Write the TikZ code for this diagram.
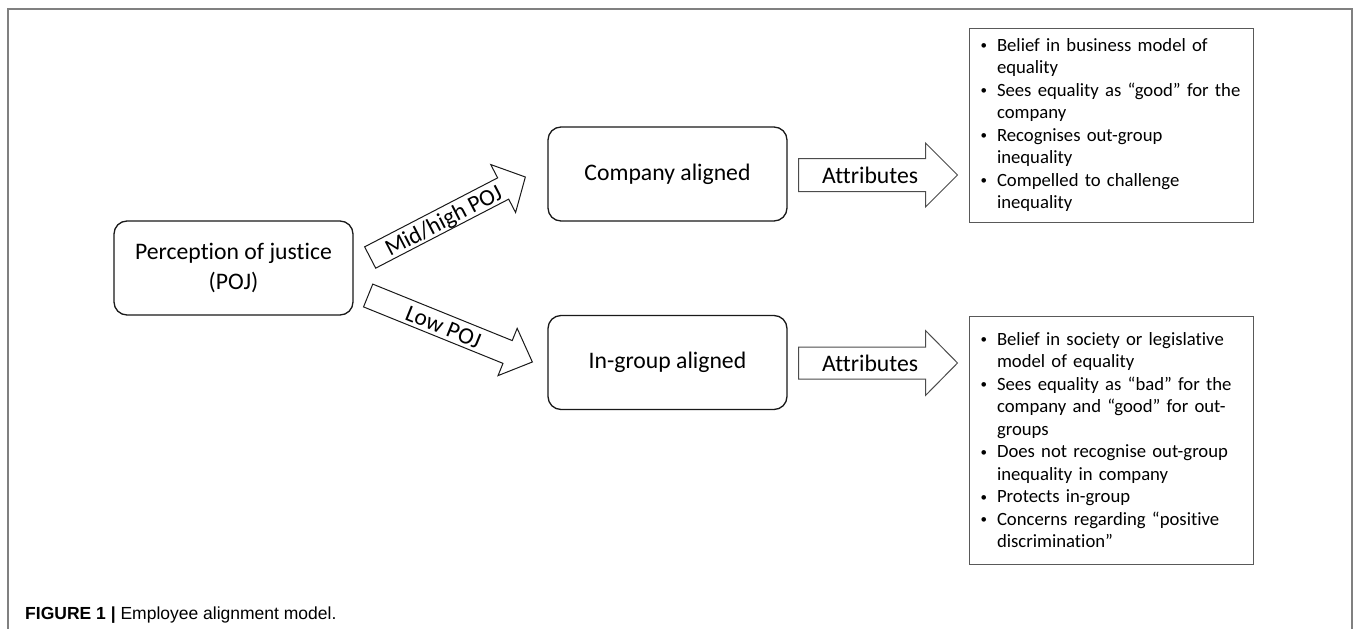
\documentclass[tikz,border=0pt]{standalone}
\usepackage{fontspec}
\setmainfont{Carlito}[Ligatures={NoCommon}]
\newfontfamily\capfont{Liberation Sans}
\usetikzlibrary{calc}
\newcommand\bul{\makebox[17.5pt][l]{\hspace*{1pt}\raisebox{1.5pt}{\fontsize{13}{13}\selectfont •}}}
\newcommand\ind{\hspace*{17.5pt}}
% style, A (tail middle), B (tip), shaft half width, head half width, head length
\newcommand\blockarr[6]{%
  \coordinate (#2-hb) at ($(#3)!#6!(#2)$);
  \draw[#1] ($(#2)!#4!90:(#3)$) -- ($(#2-hb)!#4!-90:(#2)$) -- ($(#2-hb)!#5!-90:(#2)$)
    -- (#3) -- ($(#2-hb)!#5!90:(#2)$) -- ($(#2-hb)!#4!90:(#2)$)
    -- ($(#2)!#4!-90:(#3)$) -- cycle;}
\begin{document}
\begin{tikzpicture}[x=1pt,y=-1pt,
  rbox/.style={draw=black!90, line width=1.3pt, rounded corners=13pt, minimum width=239pt,
    minimum height=94pt, inner sep=0pt, font=\fontsize{23.7}{30}\selectfont, align=center},
  listbox/.style={draw=black!65, line width=1pt, minimum width=284pt, inner xsep=10.5pt,
    inner ysep=0pt, text width=263pt, align=left, font=\fontsize{18.7}{22.5}\selectfont},
  darrow/.style={draw=black!90, line width=1pt, fill=white, line join=miter},
  garrow/.style={draw=black!70, line width=1pt, fill=white, line join=miter},
  arrlabel/.style={font=\fontsize{23.5}{28}\selectfont, inner sep=0pt, anchor=base, sloped},
  attrlabel/.style={font=\fontsize{23.7}{28}\selectfont, inner sep=0pt},
  framecol/.style={draw=black!50, line width=1.2pt}]
\useasboundingbox (0,0) rectangle (1355,629);
\draw[framecol] (8,629) -- (8,9) -- (1352,9) -- (1352,629);

\node[rbox] (poj) at (233.5,268) {Perception of justice\\(POJ)};
\node[rbox] (company) at (667.5,174) {Company aligned};
\node[rbox] (ingroup) at (667.5,362.5) {In-group aligned};

\node[listbox, minimum height=194pt] (b1) at (1111,125) {%
\bul Belief in business model of\\
\ind equality\\
\bul Sees equality as “good” for the\\
\ind company\\
\bul Recognises out-group\\
\ind inequality\\
\bul Compelled to challenge\\
\ind inequality};

\node[listbox, minimum height=248pt] (b2) at (1111,440) {%
\bul Belief in society or legislative\\
\ind model of equality\\
\bul Sees equality as “bad” for the\\
\ind company and “good” for out-\\
\ind groups\\
\bul Does not recognise out-group\\
\ind inequality in company\\
\bul Protects in-group\\
\bul Concerns regarding “positive\\
\ind discrimination”};

\coordinate (m1a) at ($(poj.east)+(16.5,-10.5)$);
\coordinate (m1b) at ($(company.west)+(-22,3)$);
\coordinate (m2a) at ($(poj.east)+(14.5,27.5)$);
\coordinate (m2b) at ($(ingroup.west)+(-15,-0.5)$);
\coordinate (a1a) at ($(company.east)+(11,1)$);
\coordinate (a1b) at ($(b1.west |- a1a)+(-11,0)$);
\coordinate (a2a) at ($(ingroup.east)+(11,0.5)$);
\coordinate (a2b) at ($(b2.west |- a2a)+(-11,0)$);

\blockarr{darrow}{m1a}{m1b}{12pt}{27pt}{25pt}
\blockarr{darrow}{m2a}{m2b}{12.3pt}{25.5pt}{26.7pt}
\blockarr{garrow}{a1a}{a1b}{16.5pt}{32pt}{32pt}
\blockarr{garrow}{a2a}{a2b}{16pt}{32.5pt}{32pt}

\path ($(m1a)!8.5pt!-90:(m1b)$) -- ($(m1b)!8.5pt!90:(m1a)$)
  node[arrlabel, pos=0.47] (lmid) {Mid/high POJ};
\path ($(m2a)!8.5pt!-90:(m2b)$) -- ($(m2b)!8.5pt!90:(m2a)$)
  node[arrlabel, pos=0.46] (llow) {Low POJ};
\node[attrlabel] (t1) at ($(a1a)+(71.5,0)$) {Attributes};
\node[attrlabel] (t2) at ($(a2a)+(71.5,0)$) {Attributes};

\node[anchor=base west, inner sep=0pt, font=\capfont\fontsize{17.5}{20}\selectfont] (cap)
  at (25,619) {\textbf{FIGURE 1 |} Employee alignment model.};
\end{tikzpicture}
\end{document}
